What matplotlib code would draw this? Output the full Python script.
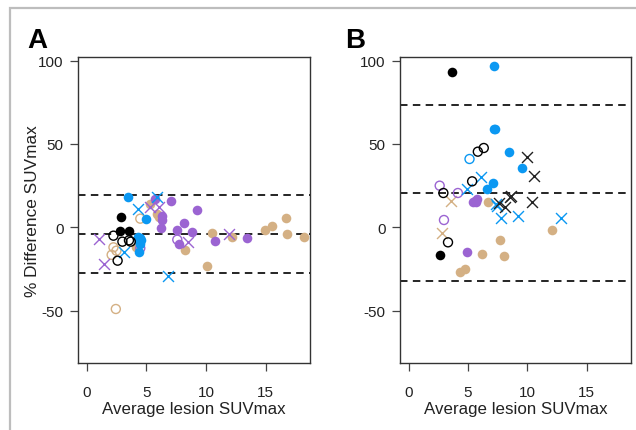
import matplotlib
matplotlib.use("Agg")
import matplotlib.pyplot as plt
from matplotlib.patches import Rectangle

plt.rcParams['font.family'] = ['Liberation Sans', 'DejaVu Sans']

BLACK = "#000000"
BLUE = "#0B98F2"
PURPLE = "#9B64D2"
TAN = "#D4B084"

# ---------------- Panel A data ----------------
A_black_fill_x = [2.9, 2.8, 3.57]
A_black_fill_y = [6.4, -2, -2]
A_black_open_x = [2.25, 3.0, 3.7, 3.55, 2.6]
A_black_open_y = [-5, -8.6, -8.6, -7.8, -20]
A_blue_fill_x = [3.45, 5.0, 4.5, 4.4, 4.6, 4.3, 4.35, 4.5]
A_blue_fill_y = [18.2, 5.2, -6.5, -8, -7.5, -5.5, -15, -10]
A_blue_x_x = [5.94, 4.29, 3.1, 6.8]
A_blue_x_y = [18.4, 11, -14.5, -29]
A_purple_fill_x = [5.74, 7.05, 6.35, 6.35, 6.24, 7.55, 8.17, 9.23, 8.84, 7.72, 10.79, 13.47]
A_purple_fill_y = [17, 16, 7, 4.4, -0.6, -1.8, 2.6, 10.6, -3, -10, -8.2, -6.2]
A_purple_open_x = [7.6, 4.5]
A_purple_open_y = [-7.4, -12.5]
A_purple_x_x = [1.0, 1.42, 5.32, 6.1, 8.53, 11.93]
A_purple_x_y = [-7, -22.2, 12, 12, -9, -4.2]
A_tan_fill_x = [5.32, 5.94, 4.15, 8.25, 10.06, 10.5, 12.2, 14.97, 15.56, 16.73, 16.8, 18.18, 6.1]
A_tan_fill_y = [14, 8, -12, -13.6, -23, -3.4, -6, -1.6, 1, 5.6, -4.2, -5.8, 6]
A_tan_open_x = [4.5, 2.45, 2.25, 2.1, 2.5]
A_tan_open_y = [5.2, -49, -12, -16.5, -14]
A_lines = [19.3, -4.1, -27.5]

# ---------------- Panel B data ----------------
B_black_fill_x = [3.62, 2.65]
B_black_fill_y = [93, -16.4]
B_black_open_x = [2.93, 3.32, 5.35, 5.83, 6.33]
B_black_open_y = [20.6, -9, 27.6, 45.4, 47.6]
B_black_x_x = [9.96, 10.57, 10.43, 8.62, 8.5, 7.59, 8.14]
B_black_x_y = [42.4, 30.6, 15.4, 19, 18, 14.6, 12]
B_blue_fill_x = [7.22, 7.31, 7.2, 8.42, 9.54, 7.11, 6.61]
B_blue_fill_y = [97, 58.8, 59, 45, 35.6, 26.4, 23]
B_blue_open_x = [5.13]
B_blue_open_y = [41]
B_blue_x_x = [6.11, 4.94, 7.45, 7.78, 9.17, 12.83, 7.35]
B_blue_x_y = [30.2, 23, 13, 5.6, 6.6, 5.6, 14]
B_purple_fill_x = [5.4, 5.6, 5.8, 5.7, 4.88]
B_purple_fill_y = [15, 16, 17, 15, -15]
B_purple_open_x = [2.62, 2.98, 4.15]
B_purple_open_y = [25, 4.4, 20.6]
B_tan_fill_x = [6.66, 7.72, 8.06, 6.22, 4.74, 4.32, 12.08]
B_tan_fill_y = [15.4, -7.6, -17.4, -16.2, -25, -27, -1.6]
B_tan_x_x = [3.54, 2.84]
B_tan_x_y = [16, -3.6]
B_lines = [73.2, 20.8, -32.0]

x_ticks = [0, 5, 10, 15]
y_ticks = [-50, 0, 50, 100]
x_label = "Average lesion SUVmax"
y_label = "% Difference SUVmax"

W, H = 636, 431
fig = plt.figure(figsize=(W / 100, H / 100), dpi=100)

# outer light-grey frame
fig.patches.append(Rectangle((10 / W, -0.05), 1.1, 1 - 9 / H + 0.05,
                             transform=fig.transFigure, fill=False,
                             edgecolor="#BDBDBD", linewidth=1.6))


def fpos(l, r, t, b):
    return [l / W, 1 - b / H, (r - l) / W, (b - t) / H]


axA = fig.add_axes(fpos(78, 310, 58, 364))
axB = fig.add_axes(fpos(400, 631, 58, 364))

MS = 48


def filled(ax, x, y, c):
    ax.scatter(x, y, s=MS, c=c, marker='o', linewidths=0, zorder=3)


def opened(ax, x, y, c):
    ax.scatter(x, y, s=MS - 6, facecolors='none', edgecolors=c, marker='o',
               linewidths=1.0, zorder=3)


def cross(ax, x, y, c):
    ax.scatter(x, y, s=MS + 14, c=c, marker='x', linewidths=1.0, zorder=3)


for ax, lines in ((axA, A_lines), (axB, B_lines)):
    for v in lines:
        ax.axhline(v, color='black', linewidth=1.2, linestyle=(0, (4.5, 3.2)), zorder=2)

filled(axA, A_tan_fill_x, A_tan_fill_y, TAN)
opened(axA, A_tan_open_x, A_tan_open_y, TAN)
filled(axA, A_purple_fill_x, A_purple_fill_y, PURPLE)
opened(axA, A_purple_open_x, A_purple_open_y, PURPLE)
cross(axA, A_purple_x_x, A_purple_x_y, PURPLE)
filled(axA, A_blue_fill_x, A_blue_fill_y, BLUE)
cross(axA, A_blue_x_x, A_blue_x_y, BLUE)
filled(axA, A_black_fill_x, A_black_fill_y, BLACK)
opened(axA, A_black_open_x, A_black_open_y, BLACK)

filled(axB, B_tan_fill_x, B_tan_fill_y, TAN)
cross(axB, B_tan_x_x, B_tan_x_y, TAN)
filled(axB, B_purple_fill_x, B_purple_fill_y, PURPLE)
opened(axB, B_purple_open_x, B_purple_open_y, PURPLE)
filled(axB, B_blue_fill_x, B_blue_fill_y, BLUE)
opened(axB, B_blue_open_x, B_blue_open_y, BLUE)
cross(axB, B_blue_x_x, B_blue_x_y, BLUE)
filled(axB, B_black_fill_x, B_black_fill_y, BLACK)
opened(axB, B_black_open_x, B_black_open_y, BLACK)
cross(axB, B_black_x_x, B_black_x_y, "#222222")

for ax in (axA, axB):
    ax.set_xlim(-0.72, 18.72)
    ax.set_ylim(-81.4, 102.2)
    ax.set_xticks(x_ticks)
    ax.set_yticks(y_ticks)
    ax.set_yticklabels([str(t) for t in y_ticks])
    ax.tick_params(axis='both', direction='out', length=5.5, width=0.9,
                   color='#444444', labelsize=11, labelcolor='#222222')
    ax.tick_params(axis='x', pad=10)
    ax.tick_params(axis='y', pad=5)
    for s in ax.spines.values():
        s.set_linewidth(1.0)
        s.set_color('#333333')
    ax.set_xlabel(x_label, fontsize=12.2, labelpad=2, color='#222222')

fig.text(33 / W, 1 - 211 / H, y_label, fontsize=12.4, rotation=90,
         ha='center', va='center', color='#222222')

fig.text(27 / W, 1 - 48 / H, "A", fontsize=20, fontweight='bold', ha='left', va='baseline')
fig.text(345 / W, 1 - 48 / H, "B", fontsize=20, fontweight='bold', ha='left', va='baseline')

fig.savefig("out.png", dpi=100)
